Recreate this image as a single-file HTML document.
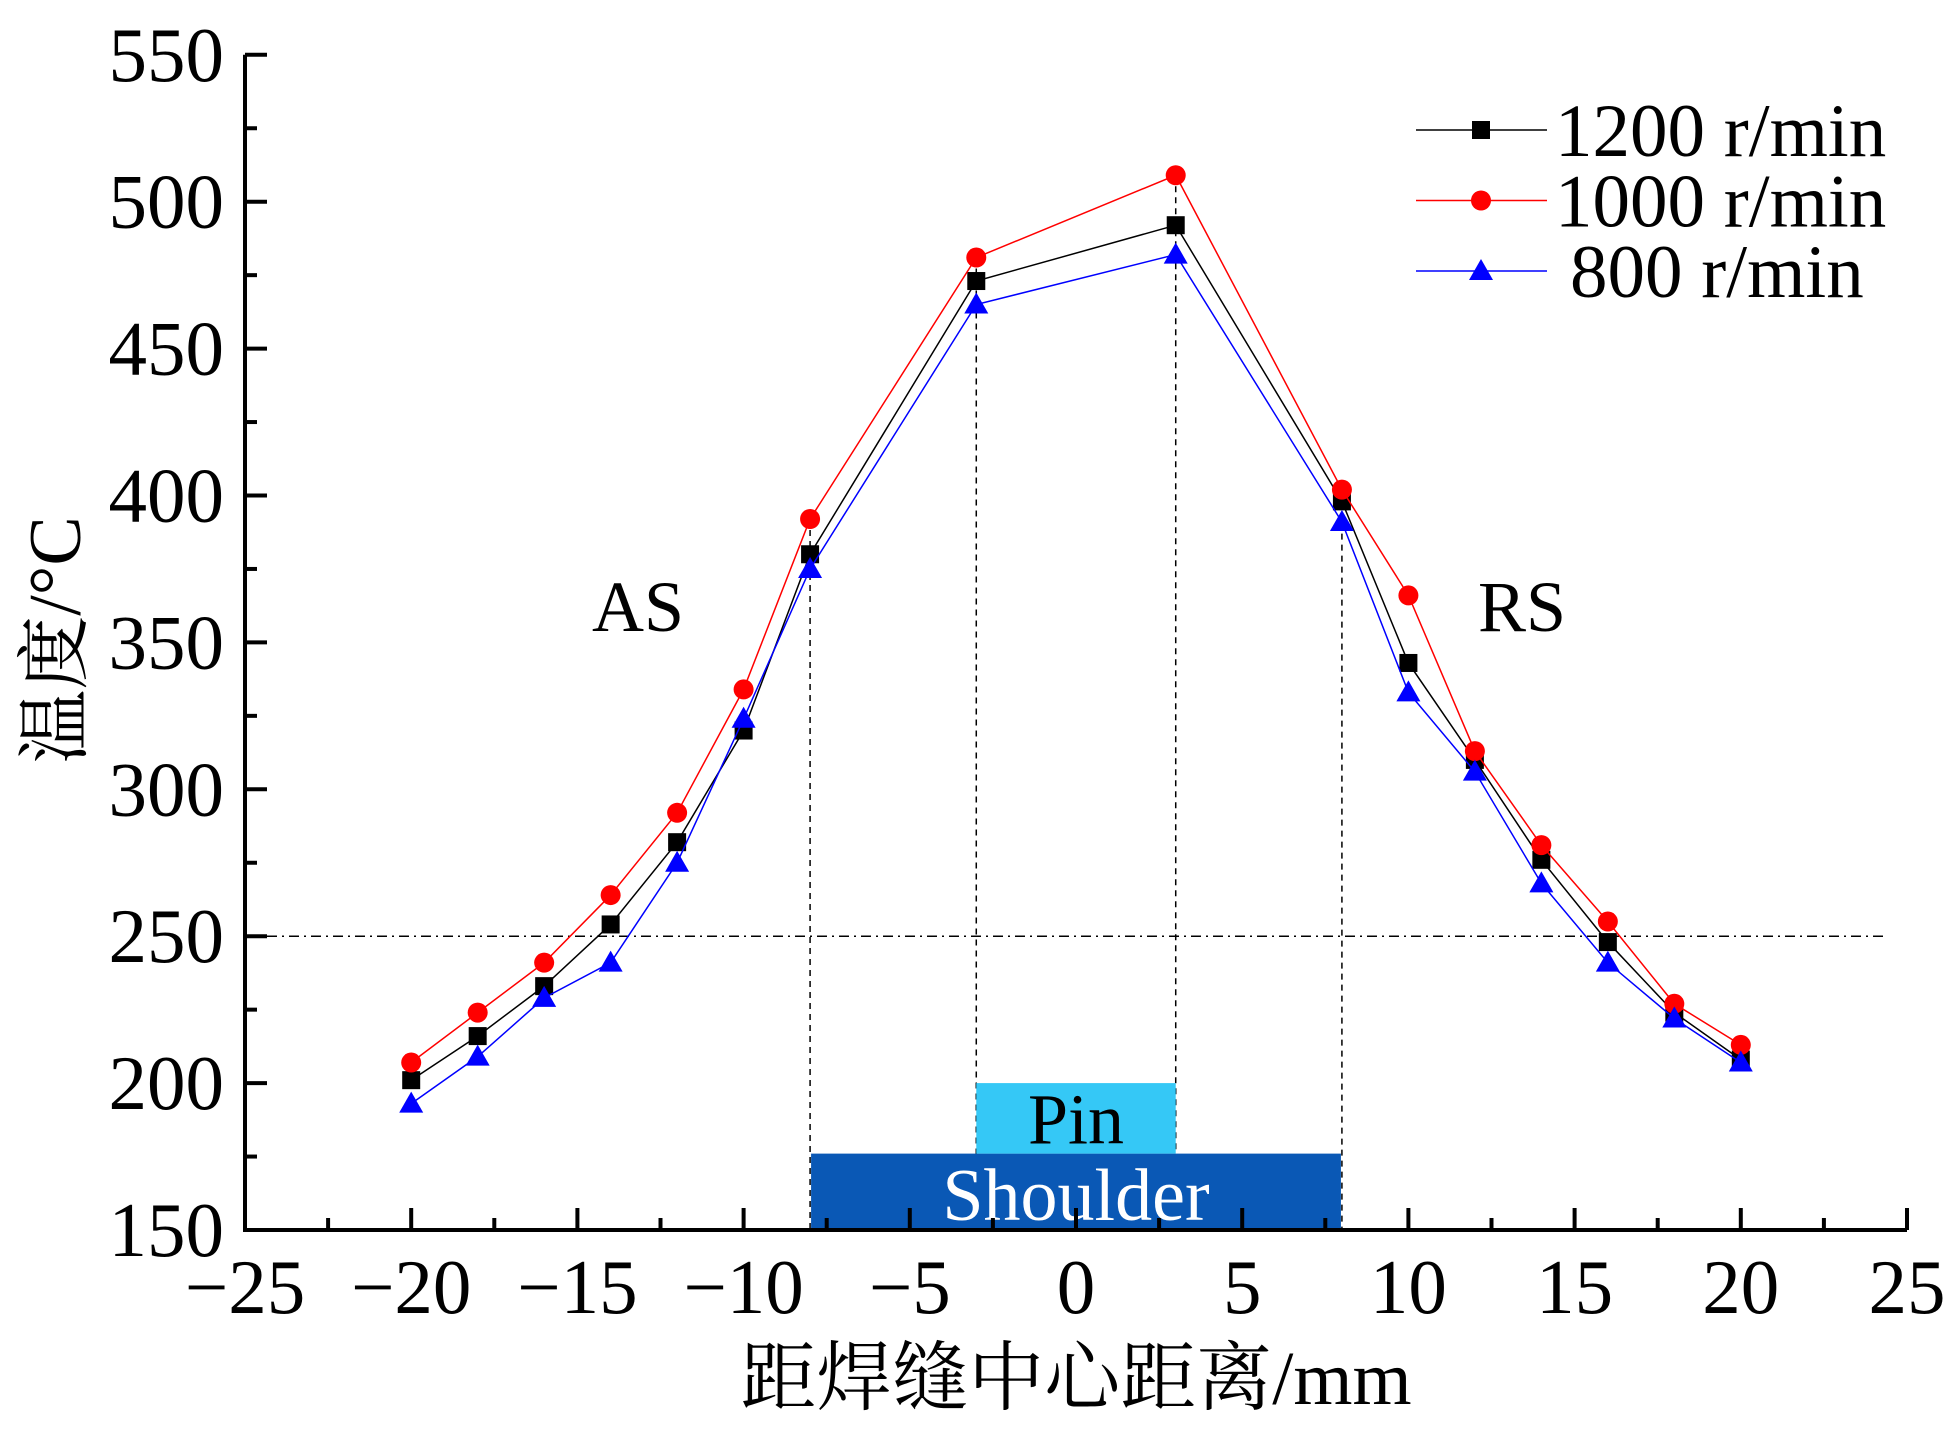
<!DOCTYPE html>
<html><head><meta charset="utf-8"><style>
html,body{margin:0;padding:0;background:#fff;}
svg{display:block;font-family:"Liberation Serif","Noto Serif CJK SC",serif;}
</style></head><body>
<svg id="chart" width="1948" height="1430" viewBox="0 0 1948 1430" xmlns="http://www.w3.org/2000/svg"></svg>
<script>
const xs=[-20,-18,-16,-14,-12,-10,-8,-3,3,8,10,12,14,16,18,20];
const s1200=[201,216,233,254,282,320,380,473,492,398,343,310,276,248,224,208];
const s1000=[207,224,241,264,292,334,392,481,509,402,366,313,281,255,227,213];
const s800=[193,209,229,241,275,324,375,465,482,391,333,306,268,241,222,207];
const xTicks=[-25,-20,-15,-10,-5,0,5,10,15,20,25];
const yTicks=[150,200,250,300,350,400,450,500,550];
const X=v=>1076+v*33.24, Y=v=>1230-(v-150)*2.938;
const svg=document.getElementById('chart');
const NS='http://www.w3.org/2000/svg';
function mk(tag,attrs,parent){const e=document.createElementNS(NS,tag);for(const k in attrs)e.setAttribute(k,attrs[k]);(parent||svg).appendChild(e);return e;}
// guide lines
[-8,-3,3,8].forEach((v,i)=>{const idx=xs.indexOf(v);const top=Math.max(s1200[idx],s1000[idx],s800[idx]);
 const l=mk('line',{x1:X(v),x2:X(v),y1:Y(top),y2:Y(150),stroke:'#000','stroke-width':1.5,'stroke-dasharray':'6,5'});
 
 });
let h=mk('line',{x1:X(-25),x2:X(24.4),y1:Y(250),y2:Y(250),stroke:'#000','stroke-width':1.5,'stroke-dasharray':'10,5,2,5'});


// regions
let r=mk('rect',{x:X(-8)+1,y:Y(176),width:X(8)-X(-8)-2,height:Y(150)-Y(176),fill:'#0a58b5'});


r=mk('rect',{x:X(-3),y:Y(200),width:X(3)-X(-3),height:Y(176)-Y(200),fill:'#35c8f6'});


let t=mk('text',{x:X(0),y:Y(176)-10,'font-size':72,'text-anchor':'middle',fill:'#000'});t.textContent='Pin';


t=mk('text',{x:X(0),y:Y(150)-10,'font-size':74,'text-anchor':'middle',fill:'#fff'});t.textContent='Shoulder';


// axes
let a=mk('path',{d:`M${X(-25)},${Y(550)}V${Y(150)}H${X(25)}`,fill:'none',stroke:'#000','stroke-width':4});


yTicks.forEach(v=>{mk('line',{x1:X(-25),x2:X(-25)+22,y1:Y(v),y2:Y(v),stroke:'#000','stroke-width':4});
 if(v<550)mk('line',{x1:X(-25),x2:X(-25)+12,y1:Y(v+25),y2:Y(v+25),stroke:'#000','stroke-width':4});
 const tt=mk('text',{x:224,y:Y(v)+26,'font-size':77,'text-anchor':'end'});tt.textContent=v;
 
 });
xTicks.forEach(v=>{mk('line',{x1:X(v),x2:X(v),y1:Y(150),y2:Y(150)-22,stroke:'#000','stroke-width':4});
 if(v<25)mk('line',{x1:X(v+2.5),x2:X(v+2.5),y1:Y(150),y2:Y(150)-12,stroke:'#000','stroke-width':4});
 const tt=mk('text',{x:X(v),y:1313,'font-size':77,'text-anchor':'middle'});tt.textContent=(v<0?'\u2212':'')+Math.abs(v);
 
 });
t=mk('text',{x:1076,y:1404,'font-size':76,'text-anchor':'middle'});t.textContent='距焊缝中心距离/mm';


t=mk('text',{x:0,y:0,'font-size':74,'text-anchor':'middle',transform:'translate(80,640) rotate(-90)'});t.textContent='温度/°C';


t=mk('text',{x:638,y:631,'font-size':72,'text-anchor':'middle'});t.textContent='AS';


t=mk('text',{x:1522,y:631,'font-size':72,'text-anchor':'middle'});t.textContent='RS';


// series
function marker(type,cx,cy,color,parent){
 if(type==='sq')return mk('rect',{x:cx-9,y:cy-9,width:18,height:18,fill:color},parent);
 if(type==='ci')return mk('circle',{cx:cx,cy:cy,r:10,fill:color},parent);
 return mk('path',{d:`M${cx},${cy-12}L${cx+12},${cy+9}L${cx-12},${cy+9}Z`,fill:color},parent);}
const series=[{n:'1200',d:s1200,c:'#000',m:'sq'},{n:'1000',d:s1000,c:'#f00',m:'ci'},{n:'800',d:s800,c:'#00f',m:'tr'}];
series.forEach(s=>{const g=mk('g',{});
 
 
 mk('polyline',{points:xs.map((x,i)=>X(x)+','+Y(s.d[i])).join(' '),fill:'none',stroke:s.c,'stroke-width':1.5},g);
 xs.forEach((x,i)=>{const m=marker(s.m,X(x),Y(s.d[i]),s.c,g);
  
  });});
// legend
const lg=mk('g',{});


const labels=['1200 r/min','1000 r/min','800 r/min'];
series.forEach((s,i)=>{const y=130+i*70.5;const e=mk('g',{},lg);
 
 
 mk('line',{x1:1416,x2:1547,y1:y,y2:y,stroke:s.c,'stroke-width':1.5},e);
 marker(s.m,1481,y,s.c,e);
 const tt=mk('text',{x:i==2?1570:1555,y:y+26,'font-size':75},e);tt.textContent=labels[i];});
</script>
</body></html>
